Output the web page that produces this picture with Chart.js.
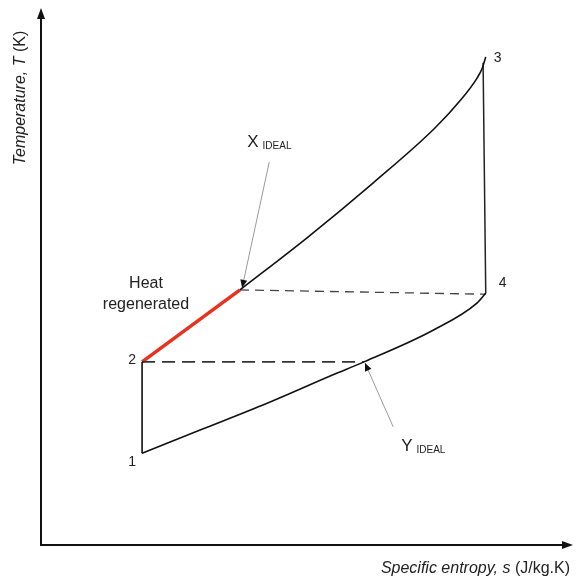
<!DOCTYPE html>
<html lang="en">
<head>
<meta charset="UTF-8">
<title>T-s diagram, regenerative cycle</title>
<script src="https://cdn.jsdelivr.net/npm/chart.js"></script>
<style>
  html, body { margin: 0; padding: 0; background: #fff; }
  #wrap { width: 577px; height: 580px; position: relative; }
</style>
</head>
<body>
<div id="wrap"><canvas id="tsChart"></canvas></div>
<script>
// s and T in arbitrary units (axes run 0..10)
const pointNames = ['1', '2', '3', '4'];
const pointS = [1.90, 1.90, 8.36, 8.36];
const pointT = [1.71, 3.41, 9.09, 4.69];

// heating curve X -> 3
const upperS = [3.74, 5.00, 6.24, 7.40, 7.90, 8.20, 8.29, 8.36];
const upperT = [4.75, 5.72, 6.74, 7.76, 8.30, 8.70, 8.87, 9.09];
// cooling curve 1 -> Y -> 4
const lowerS = [1.90, 2.99, 4.25, 5.49, 6.07, 7.37, 8.20, 8.36];
const lowerT = [1.71, 2.14, 2.64, 3.17, 3.41, 4.00, 4.51, 4.69];
// compression 1 -> 2
const compS = [1.90, 1.90];
const compT = [1.71, 3.41];
// expansion 3 -> 4
const expS = [8.31, 8.36];
const expT = [8.98, 4.69];
// heat regenerated 2 -> X
const regenS = [1.90, 3.74];
const regenT = [3.41, 4.75];
// dashed levels
const dash2S = [1.90, 6.07];
const dash2T = [3.41, 3.41];
const dashXS = [3.74, 8.36];
const dashXT = [4.75, 4.67];
// pointer arrows (tail -> head)
const arrowXS = [4.29, 3.78];
const arrowXT = [7.13, 4.79];
const arrowYS = [6.62, 6.09];
const arrowYT = [2.20, 3.39];

function pts(s, t) {
    return s.map((v, i) => ({ x: v, y: t[i] }));
}

const FONT = '"Liberation Sans", Arial, sans-serif';

function line(s, t, color, width, dash) {
    return {
        data: pts(s, t),
        showLine: true,
        borderColor: color,
        borderWidth: width,
        borderDash: dash || [],
        pointRadius: 0,
        cubicInterpolationMode: 'monotone',
        fill: false
    };
}

// axes arrows, pointer arrowheads and all the labels
const decorations = {
    id: 'decorations',
    afterDatasetsDraw(chart) {
        const c = chart.ctx;
        const a = chart.chartArea;
        const xs = chart.scales.x, ys = chart.scales.y;
        const px = v => xs.getPixelForValue(v);
        const py = v => ys.getPixelForValue(v);
        c.save();

        // axes
        c.strokeStyle = '#111';
        c.fillStyle = '#111';
        c.lineWidth = 2;
        c.beginPath();
        c.moveTo(a.left, a.top + 8);
        c.lineTo(a.left, a.bottom);
        c.lineTo(a.right - 8, a.bottom);
        c.stroke();
        c.beginPath();
        c.moveTo(a.left, a.top);
        c.lineTo(a.left - 4, a.top + 11);
        c.lineTo(a.left + 4, a.top + 11);
        c.closePath();
        c.fill();
        c.beginPath();
        c.moveTo(a.right, a.bottom);
        c.lineTo(a.right - 11, a.bottom - 4);
        c.lineTo(a.right - 11, a.bottom + 4);
        c.closePath();
        c.fill();

        // pointer arrowheads
        [[arrowXS, arrowXT], [arrowYS, arrowYT]].forEach(([s, t]) => {
            const x0 = px(s[0]), y0 = py(t[0]), x1 = px(s[1]), y1 = py(t[1]);
            const ang = Math.atan2(y1 - y0, x1 - x0);
            c.save();
            c.translate(x1, y1);
            c.rotate(ang);
            c.beginPath();
            c.moveTo(0, 0);
            c.lineTo(-8, -3.5);
            c.lineTo(-8, 3.5);
            c.closePath();
            c.fillStyle = '#111';
            c.fill();
            c.restore();
        });

        // state point numbers
        c.fillStyle = '#222';
        c.font = '14px ' + FONT;
        c.textBaseline = 'middle';
        c.textAlign = 'center';
        const offs = [[-10, 9], [-10, -2], [12, 1], [17, -10]];
        pointNames.forEach((n, i) => {
            c.fillText(n, px(pointS[i]) + offs[i][0], py(pointT[i]) + offs[i][1]);
        });

        // X ideal / Y ideal
        c.textAlign = 'left';
        c.textBaseline = 'alphabetic';
        const sub = (x, y, big, small) => {
            c.font = '17px ' + FONT;
            c.fillText(big, x, y);
            const w = c.measureText(big).width;
            c.font = '10px ' + FONT;
            c.fillText(small, x + w + 4, y + 2);
        };
        sub(px(arrowXS[0]) - 22, py(arrowXT[0]) - 15, 'X', 'IDEAL');
        sub(px(arrowYS[0]) + 8, py(arrowYT[0]) + 24, 'Y', 'IDEAL');

        // heat regenerated
        c.textAlign = 'center';
        c.font = '16px ' + FONT;
        c.fillText('Heat', 146, 288);
        c.fillText('regenerated', 146, 309);

        // axis titles with italic symbols
        const mixed = (parts) => {
            let total = 0;
            parts.forEach(p => { c.font = p[1] + ' 16px ' + FONT; p.w = c.measureText(p[0]).width; total += p.w; });
            return total;
        };
        const xParts = [['Specific entropy, s', 'italic'], [' (J/kg.K)', 'normal']];
        let tw = mixed(xParts);
        let x = 570 - tw;
        c.textAlign = 'left';
        xParts.forEach(p => { c.font = p[1] + ' 16px ' + FONT; c.fillText(p[0], x, 573); x += p.w; });

        const yParts = [['Temperature, T', 'italic'], [' (K)', 'normal']];
        tw = mixed(yParts);
        c.save();
        c.translate(25, 98);
        c.rotate(-Math.PI / 2);
        x = -tw / 2;
        yParts.forEach(p => { c.font = p[1] + ' 16px ' + FONT; c.fillText(p[0], x, 0); x += p.w; });
        c.restore();

        c.restore();
    }
};

new Chart(document.getElementById('tsChart'), {
    type: 'scatter',
    data: {
        datasets: [
            line(lowerS, lowerT, '#111', 1.6),
            line(upperS, upperT, '#111', 1.6),
            line(compS, compT, '#111', 1.6),
            line(expS, expT, '#222', 1.5),
            line(dash2S, dash2T, '#333', 1.6, [13, 7]),
            line(dashXS, dashXT, '#444', 1.3, [9, 6]),
            line(arrowXS, arrowXT, '#9a9a9a', 1),
            line(arrowYS, arrowYT, '#9a9a9a', 1),
            line(regenS, regenT, '#e8321f', 3.5)
        ]
    },
    options: {
        responsive: true,
        maintainAspectRatio: false,
        animation: false,
        layout: { padding: { left: 41, right: 4, top: 8, bottom: 35 } },
        scales: {
            x: { type: 'linear', min: 0, max: 10, display: false },
            y: { type: 'linear', min: 0, max: 10, display: false }
        },
        plugins: {
            legend: { display: false },
            tooltip: { enabled: false }
        }
    },
    plugins: [decorations]
});
</script>
</body>
</html>
